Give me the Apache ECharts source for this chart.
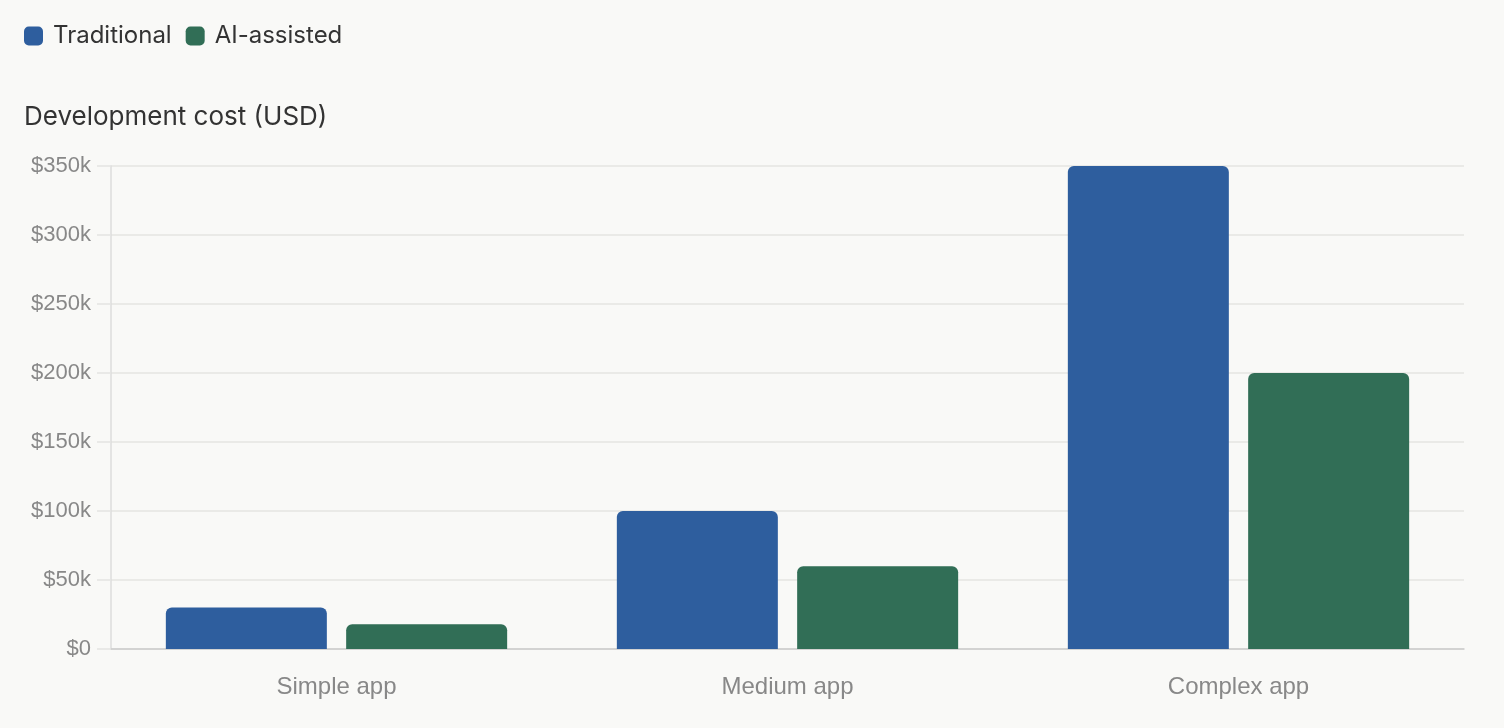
<!DOCTYPE html>
<html>
<head>
<meta charset="utf-8">
<script src="https://cdn.jsdelivr.net/npm/echarts@6/dist/echarts.min.js"></script>
<style>
  html, body { margin: 0; padding: 0; background: #f9f9f7; }
  #chart { width: 1504px; height: 728px; }
</style>
</head>
<body>
<div id="chart"></div>
<script>
const categories = ['Simple app', 'Medium app', 'Complex app']
const traditional = [30000, 100000, 350000]
const aiAssisted = [18000, 60000, 200000]
const seriesNames = ['Traditional', 'AI-assisted']

const chart = echarts.init(document.getElementById('chart'))

const option = {
  backgroundColor: '#f9f9f7',
  color: ['#2e5e9e', '#316e56'],
  animation: false,
  title: {
    text: 'Development cost (USD)',
    left: 24,
    top: 104,
    padding: 0,
    textStyle: {
      color: '#333',
      fontSize: 26,
      fontWeight: 'normal',
      fontFamily: 'Inter'
    }
  },
  legend: {
    left: 24,
    top: 24,
    padding: 0,
    icon: 'roundRect',
    itemWidth: 19,
    itemHeight: 19,
    itemGap: 14,
    data: seriesNames,
    textStyle: {
      color: '#333',
      fontSize: 24,
      fontFamily: 'Inter',
      padding: [0, 0, 0, 5]
    }
  },
  grid: {
    left: 111,
    right: 40,
    top: 166,
    bottom: 79,
    containLabel: false
  },
  xAxis: {
    type: 'category',
    data: categories,
    axisTick: { show: false },
    axisLine: { lineStyle: { color: '#cccccc', width: 1.5 } },
    axisLabel: {
      color: '#888',
      fontSize: 24,
      fontFamily: 'Liberation Sans',
      margin: 26
    }
  },
  yAxis: {
    type: 'value',
    min: 0,
    max: 350000,
    interval: 50000,
    axisLine: { show: true, lineStyle: { color: '#dddddd', width: 1.5 } },
    axisTick: { show: true, length: 14, lineStyle: { color: '#e4e4e2', width: 1.5 } },
    axisLabel: {
      color: '#888',
      fontSize: 22,
      fontFamily: 'Liberation Sans',
      margin: 20,
      formatter: v => (v === 0 ? '$0' : '$' + (v / 1000) + 'k')
    },
    splitLine: { lineStyle: { color: '#e4e4e2', width: 1.5 } }
  },
  series: [
    {
      name: seriesNames[0],
      type: 'bar',
      data: traditional,
      barWidth: 161,
      barGap: '12%',
      itemStyle: { borderRadius: [6, 6, 0, 0] }
    },
    {
      name: seriesNames[1],
      type: 'bar',
      data: aiAssisted,
      barWidth: 161,
      barGap: '12%',
      itemStyle: { borderRadius: [6, 6, 0, 0] }
    }
  ]
}

chart.setOption(option)
</script>
</body>
</html>
